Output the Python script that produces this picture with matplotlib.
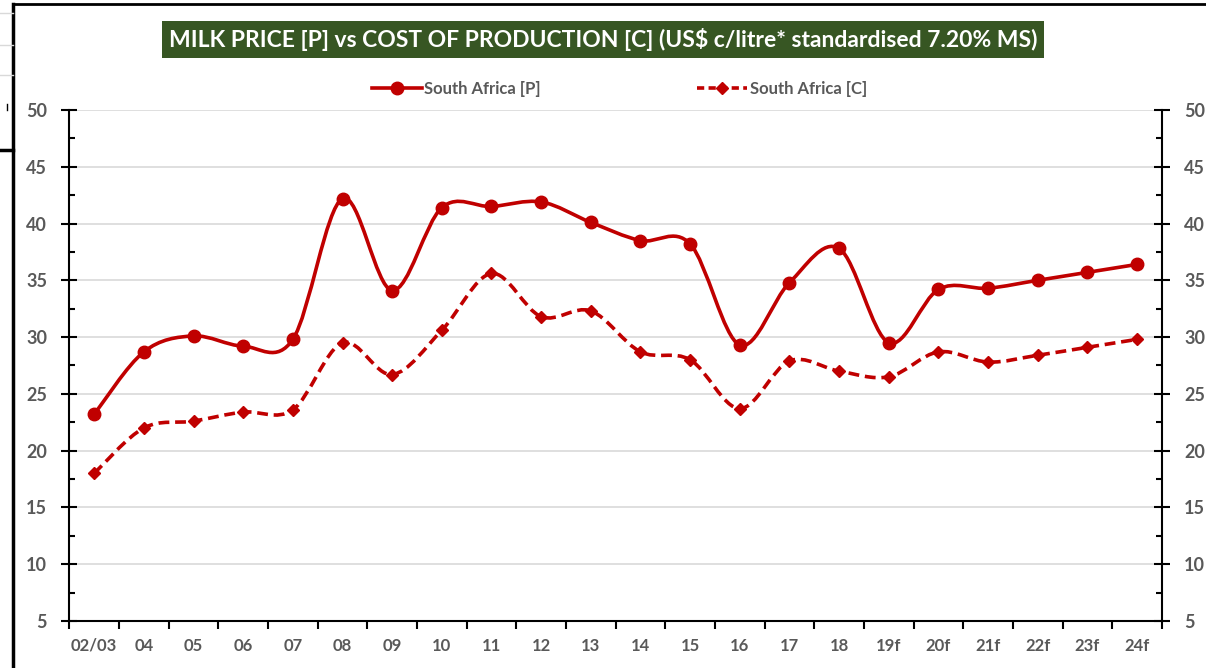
import numpy as np
import matplotlib.pyplot as plt
from matplotlib.path import Path
from matplotlib.patches import PathPatch
from matplotlib.lines import Line2D

plt.rcParams['font.family'] = ['Lato', 'DejaVu Sans']

years = ['02/03', '04', '05', '06', '07', '08', '09', '10', '11', '12', '13',
         '14', '15', '16', '17', '18', '19f', '20f', '21f', '22f', '23f', '24f']
price = [23.2, 28.7, 30.1, 29.2, 29.8, 42.2, 34.1, 41.4, 41.5, 41.9, 40.1,
         38.5, 38.2, 29.3, 34.8, 37.8, 29.5, 34.2, 34.3, 35.0, 35.7, 36.4]
cost = [18.0, 22.0, 22.6, 23.4, 23.6, 29.5, 26.7, 30.6, 35.6, 31.8, 32.3,
        28.7, 28.0, 23.7, 27.9, 27.0, 26.5, 28.7, 27.8, 28.4, 29.1, 29.8]

red = '#C00000'
grey = '#595959'


def smooth_path(x, y):
    # Excel-style smoothed line: Catmull-Rom segments as cubic Beziers
    x = np.asarray(x, float)
    y = np.asarray(y, float)
    pts = np.column_stack([x, y])
    verts = [pts[0]]
    codes = [Path.MOVETO]
    n = len(pts)
    for i in range(n - 1):
        p0 = pts[max(i - 1, 0)]
        p1 = pts[i]
        p2 = pts[i + 1]
        p3 = pts[min(i + 2, n - 1)]
        c1 = p1 + (p2 - p0) / 6
        c2 = p2 - (p3 - p1) / 6
        verts += [c1, c2, p2]
        codes += [Path.CURVE4] * 3
    return Path(verts, codes)


fig = plt.figure(figsize=(12.06, 6.68), dpi=100)
ax = fig.add_axes([0.0575, 0.0704, 0.906, 0.765])

xs = np.arange(len(years))
ax.add_patch(PathPatch(smooth_path(xs, price), fill=False, edgecolor=red,
                       lw=2.6, zorder=3))
ax.add_patch(PathPatch(smooth_path(xs, cost), fill=False, edgecolor=red,
                       lw=2.6, ls=(0, (3, 1.6)), zorder=3))
ax.plot(xs, price, ls='none', marker='o', ms=9, color=red, zorder=4)
ax.plot(xs, cost, ls='none', marker='D', ms=6.5, color=red, zorder=4)

ax.set_xlim(-0.5, len(years) - 0.5)
ax.set_ylim(5, 50)
ax.set_yticks(np.arange(5, 51, 5))
ax.set_yticks(np.arange(7.5, 50, 5), minor=True)
ax.grid(axis='y', which='major', color='#D9D9D9', lw=1.2)
ax.set_axisbelow(True)

ax.set_xticks(xs)
ax.set_xticklabels(years)
ax.set_xticks(np.arange(-0.5, len(years), 1), minor=True)
ax.tick_params(axis='x', which='major', length=0, pad=12,
               labelsize=12, labelcolor=grey)
ax.tick_params(axis='x', which='minor', length=6, width=1.5,
               direction='out', color='black')
for lab in ax.get_xticklabels():
    lab.set_fontweight('bold')

ax.tick_params(axis='y', which='major', length=12, width=1.5,
               direction='inout', left=True, right=True,
               labelleft=True, labelright=True,
               labelsize=13, labelcolor=grey, pad=10)
ax.tick_params(axis='y', which='minor', length=4, width=1.5,
               direction='in', left=True, right=True)
for lab in ax.get_yticklabels():
    lab.set_fontweight('bold')

for side in ['left', 'right', 'bottom']:
    ax.spines[side].set_linewidth(1.5)
    ax.spines[side].set_color('black')
ax.spines['top'].set_visible(False)

# legend
handles = [Line2D([], [], color=red, lw=2.6, marker='o', ms=9),
           Line2D([], [], color=red, lw=2.6, ls=(0, (2, 1.2)), marker='D', ms=6.5)]
leg = fig.legend(handles, ['South Africa [P]', 'South Africa [C]'],
                 loc='center', bbox_to_anchor=(0.5135, 0.867), ncol=2,
                 frameon=False, handlelength=3.0, handletextpad=0.15,
                 columnspacing=9.4, prop={'weight': 'bold', 'size': 12})
for t in leg.get_texts():
    t.set_color(grey)

fig.text(0.5, 0.941, 'MILK PRICE [P] vs COST OF PRODUCTION [C] (US$ c/litre* standardised 7.20% MS)',
         ha='center', va='center', color='white', fontsize=16.5, fontweight='bold',
         bbox=dict(boxstyle='square,pad=0.3', facecolor='#375623', edgecolor='none'))

# screenshot frame edges
fig.add_artist(Line2D([13 / 1206, 13 / 1206], [0, 1 - 4 / 668], color='black', lw=2.5))
fig.add_artist(Line2D([13 / 1206, 1], [1 - 4 / 668, 1 - 4 / 668], color='black', lw=2))
fig.add_artist(Line2D([0, 13 / 1206], [1 - 150 / 668, 1 - 150 / 668], color='black', lw=2.5))
fig.add_artist(Line2D([7 / 1206, 7 / 1206], [1 - 104 / 668, 1 - 110 / 668], color='black', lw=1))
for yy in [13, 45, 75]:
    fig.add_artist(Line2D([0, 13 / 1206], [1 - yy / 668, 1 - yy / 668], color='#D9D9D9', lw=1))

fig.savefig('out.png', dpi=100)
